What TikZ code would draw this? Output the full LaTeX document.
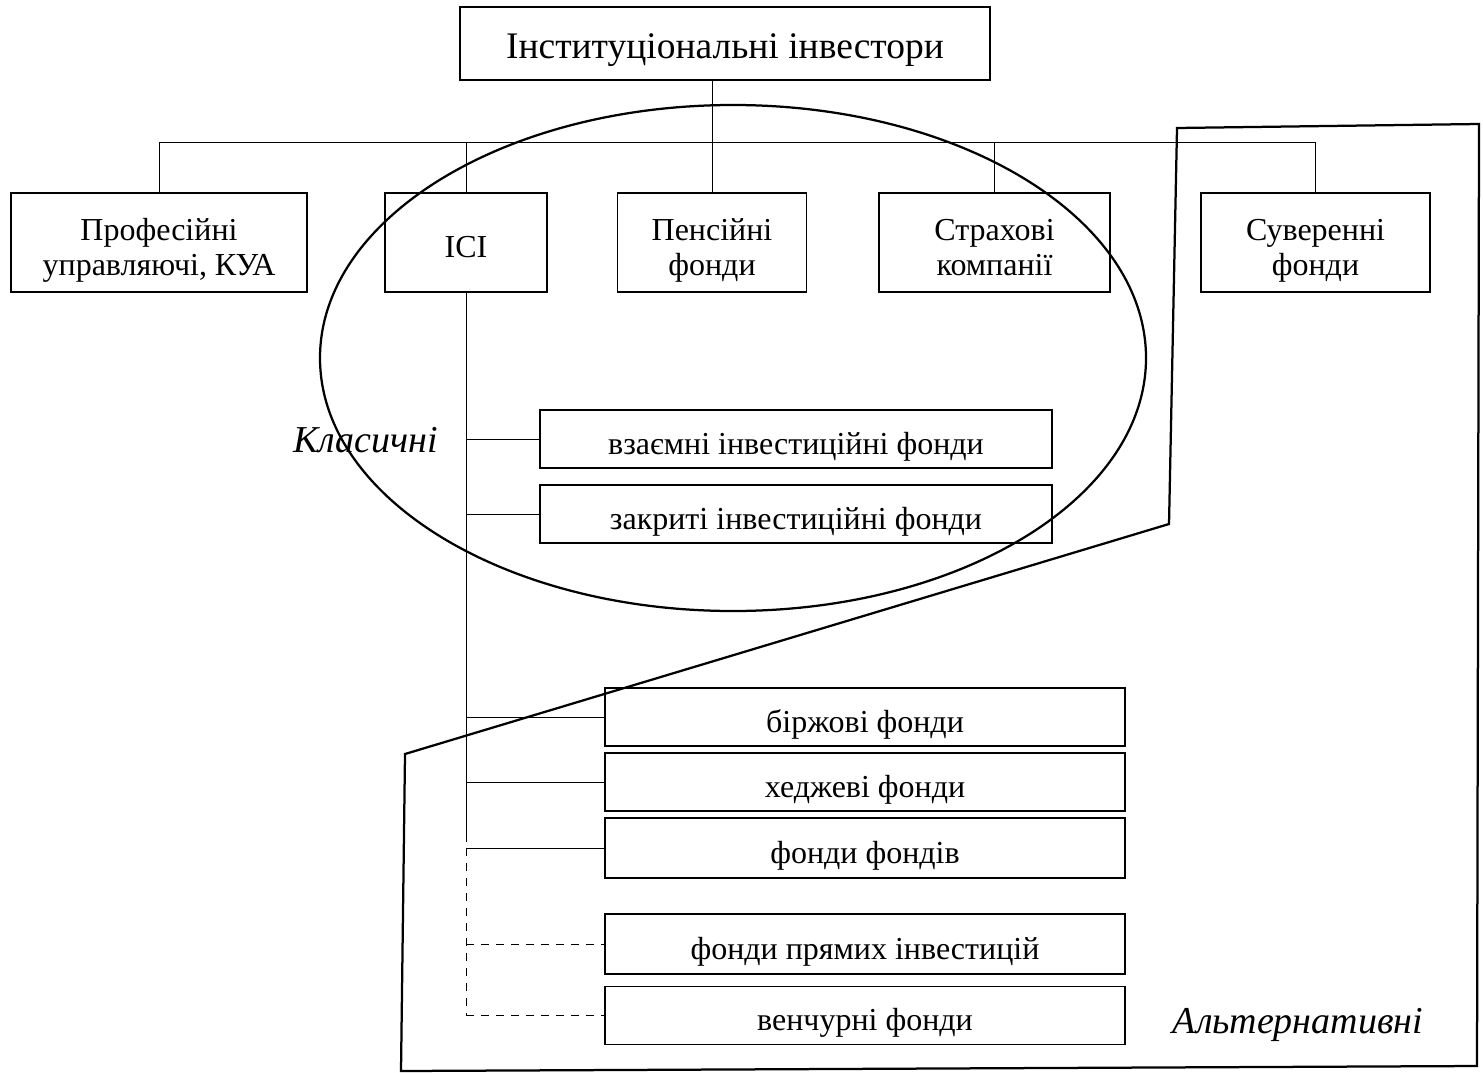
\documentclass[tikz,border=0pt]{standalone}
\usepackage{fontspec}
\setmainfont{Liberation Serif}
\usetikzlibrary{positioning,calc}

% Invisible rules that keep the text a bit below the box middle
\newcommand{\boxtop}{\rule{0pt}{15.7pt}}
\newcommand{\boxbot}{\rule[-3.5pt]{0pt}{3.5pt}}

\begin{document}
\begin{tikzpicture}[x=0.4pt, y=-0.4pt,
    box/.style={draw, line width=0.6pt, align=center, inner sep=2pt,
        font=\fontsize{12.8}{14}\selectfont,
        execute at begin node=\boxtop, execute at end node=\boxbot},
    topbox/.style={box, minimum height=39.6pt},
    subbox/.style={box, minimum height=22.8pt},
    link/.style={line width=0.4pt},
    group/.style={line width=0.9pt},
    tag/.style={font=\fontsize{15.2}{18}\selectfont\itshape}]
    \useasboundingbox (0,0) rectangle (1483,1072);

    % Root
    \node[box, minimum width=212pt, minimum height=29.2pt,
        font=\fontsize{15}{18}\selectfont] (root) at (725,43.5)
        {Інституціональні інвестори};

    % First level
    \node[topbox, minimum width=118.4pt] (prof) at (159,242.5)
        {\boxtop Професійні\\управляючі, КУА};
    \node[topbox, minimum width=64.8pt] (ici) at (466,242.5) {ICI};
    \node[topbox, minimum width=75.6pt] (pens) at (712,242.5)
        {\boxtop Пенсійні\\фонди};
    \node[topbox, minimum width=92.4pt] (insur) at (994.5,242.5)
        {\boxtop Страхові\\компанії};
    \node[topbox, minimum width=91.6pt] (sover) at (1315.5,242.5)
        {\boxtop Суверенні\\фонди};

    % Bus between root and first level
    \coordinate (bus) at (0,142);
    \draw[link] (pens.north |- root.south) -- (pens.north);
    \draw[link] (prof.north) -- (prof.north |- bus) -- (sover.north |- bus)
        -- (sover.north);
    \draw[link] (ici.north) -- (ici.north |- bus);
    \draw[link] (insur.north) -- (insur.north |- bus);

    % Kinds of ICI
    \node[subbox, minimum width=204.8pt] (mutual) at (796,439)
        {взаємні інвестиційні фонди};
    \node[subbox, minimum width=204.8pt] (closed) at (796,514)
        {закриті інвестиційні фонди};
    \node[subbox, minimum width=208pt] (etf) at (865,717) {біржові фонди};
    \node[subbox, minimum width=208pt] (hedge) at (865,782) {хеджеві фонди};
    \node[subbox, minimum width=208pt, minimum height=24pt] (fof)
        at (865,848) {фонди фондів};
    \node[subbox, minimum width=208pt, minimum height=24pt] (pe)
        at (865,944) {фонди прямих інвестицій};
    \node[subbox, minimum width=208pt] (vc) at (865,1015.5) {венчурні фонди};

    % Spine under ICI
    \coordinate (spine) at (465,842);
    \draw[link] (ici.south) -- (ici.south |- spine);
    \draw[link, dashed] (ici.south |- fof.west) -- (ici.south |- vc.west);
    \foreach \k in {mutual,closed,etf,hedge,fof}
        \draw[link] (ici.south |- \k.west) -- (\k.west);
    \foreach \k in {pe,vc}
        \draw[link, dashed] (ici.south |- \k.west) -- (\k.west);

    % Classic group
    \draw[group] (733,358) ellipse [x radius=413, y radius=253];
    \node[tag] (classic) at (366,440) {Класичні};

    % Alternative group
    \draw[group] (1177,128) -- (1479,124) -- (1477,1066) -- (401,1071)
        -- (405,754) -- (1169,524) -- cycle;
    \node[tag] (altern) at (1298,1025) {Альтернативні};
\end{tikzpicture}
\end{document}
